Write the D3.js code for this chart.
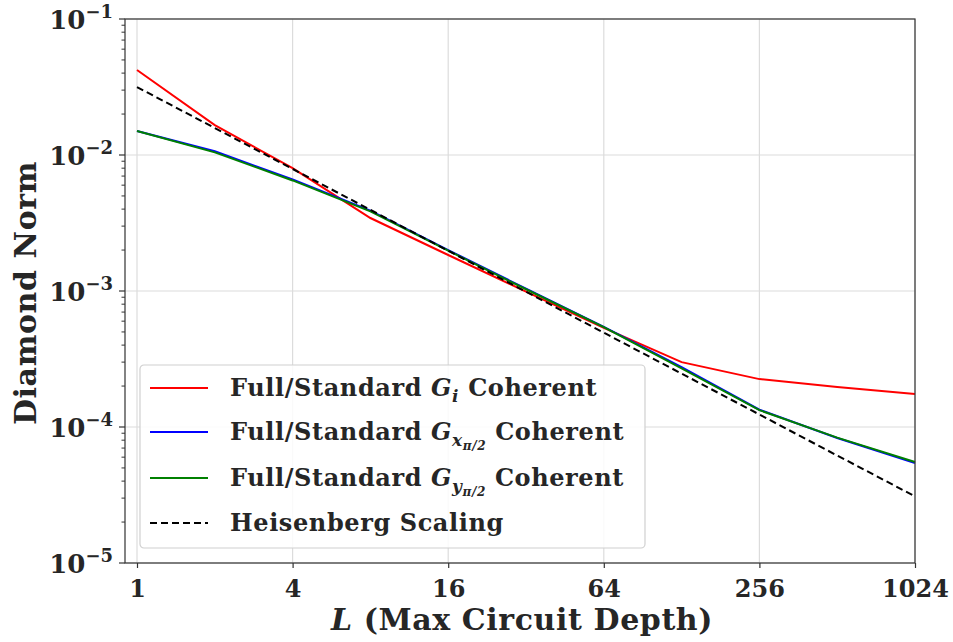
<!DOCTYPE html>
<html>
<head>
<meta charset="utf-8">
<script src="https://cdn.jsdelivr.net/npm/d3@7"></script>
<style>
  body { margin: 0; background: #fff; }
  text { font-family: "DejaVu Serif", serif; font-weight: bold; fill: #262626; }
</style>
</head>
<body>
<div id="chart-area"></div>
<script>

// Data
var depths = [1, 2, 4, 8, 16, 32, 64, 128, 256, 512, 1024];
var giCoherent = [0.0422, 0.0166, 0.0080, 0.00344, 0.00184, 0.00099, 0.000535, 0.000300, 0.000225, 0.000197, 0.000175];
var gxCoherent = [0.0150, 0.01065, 0.00660, 0.00390, 0.00200, 0.00104, 0.000545, 0.000276, 0.000134, 0.0000830, 0.0000543];
var gyCoherent = [0.0150, 0.01045, 0.00650, 0.00385, 0.00198, 0.00103, 0.000542, 0.000270, 0.000133, 0.0000835, 0.0000553];
var heisenberg = [0.0316, 0.0158, 0.0079, 0.00395, 0.001975, 0.000988, 0.000494, 0.000247, 0.0001235, 0.0000617, 0.0000309];

var xTicks = [1, 4, 16, 64, 256, 1024];
var yDecades = [1e-1, 1e-2, 1e-3, 1e-4, 1e-5];

var seriesNames = ["gi", "gx", "gy", "heis"];
var seriesColors = ["#ff0000", "#0000ff", "#008000", "#000000"];
var seriesValues = [giCoherent, gxCoherent, gyCoherent, heisenberg];

// SVG drawing area
var margin = {top: 19, right: 38, bottom: 79, left: 125};
var width = 953 - margin.left - margin.right,
    height = 642 - margin.top - margin.bottom;

var svg = d3.select("#chart-area").append("svg")
    .attr("width", 953)
    .attr("height", 642)
  .append("g")
    .attr("transform", "translate(" + margin.left + "," + margin.top + ")");

// Scales (x starts a little right of the frame, like the reference)
var x = d3.scaleLog().base(2)
    .domain([1, 1024])
    .range([12, width]);

var y = d3.scaleLog()
    .domain([1e-5, 1e-1])
    .range([height, 0]);

// Grid
svg.selectAll(".xgrid")
    .data(xTicks)
  .enter().append("line")
    .attr("class", "xgrid")
    .attr("x1", function(d) { return x(d); })
    .attr("x2", function(d) { return x(d); })
    .attr("y1", 0)
    .attr("y2", height)
    .attr("stroke", "#dcdcdc")
    .attr("stroke-width", 1.2);

svg.selectAll(".ygrid")
    .data(yDecades)
  .enter().append("line")
    .attr("class", "ygrid")
    .attr("x1", 0)
    .attr("x2", width)
    .attr("y1", function(d) { return y(d); })
    .attr("y2", function(d) { return y(d); })
    .attr("stroke", "#dcdcdc")
    .attr("stroke-width", 1.2);

// Lines
var line = d3.line()
    .x(function(d) { return x(d[0]); })
    .y(function(d) { return y(d[1]); });

seriesValues.forEach(function(vals, i) {
    svg.append("path")
        .datum(depths.map(function(d, j) { return [d, vals[j]]; }))
        .attr("fill", "none")
        .attr("stroke", seriesColors[i])
        .attr("stroke-width", 2)
        .attr("stroke-dasharray", seriesNames[i] === "heis" ? "7,4" : null)
        .attr("d", line);
});

// Frame
svg.append("rect")
    .attr("width", width)
    .attr("height", height)
    .attr("fill", "none")
    .attr("stroke", "#333")
    .attr("stroke-width", 1.2);

// X axis
var xAxis = d3.axisBottom(x)
    .tickValues(xTicks)
    .tickFormat(d3.format("d"))
    .tickSize(5)
    .tickPadding(6);

var gx = svg.append("g")
    .attr("transform", "translate(0," + height + ")")
    .call(xAxis);
gx.select(".domain").remove();
gx.selectAll(".tick line").attr("stroke", "#333").attr("stroke-width", 1.2);
gx.selectAll(".tick text")
    .style("font-size", "24px")
    .attr("fill", "#262626")
    .attr("dy", "0.95em");

// Y axis: minor ticks
var minorTicks = y.ticks().filter(function(d) {
    return yDecades.indexOf(d) < 0;
});
svg.selectAll(".yminor")
    .data(minorTicks)
  .enter().append("line")
    .attr("x1", -3.5)
    .attr("x2", 0)
    .attr("y1", function(d) { return y(d); })
    .attr("y2", function(d) { return y(d); })
    .attr("stroke", "#333")
    .attr("stroke-width", 1);

// Y axis: major ticks and labels
var yMajor = svg.selectAll(".ymajor")
    .data(yDecades)
  .enter().append("g")
    .attr("transform", function(d) { return "translate(0," + y(d) + ")"; });

yMajor.append("line")
    .attr("x1", -6)
    .attr("x2", 0)
    .attr("stroke", "#333")
    .attr("stroke-width", 1.2);

var yLab = yMajor.append("text")
    .attr("x", -12)
    .attr("y", 10)
    .attr("text-anchor", "end")
    .style("font-size", "26px");
yLab.append("tspan").text("10");
yLab.append("tspan")
    .attr("dy", -11)
    .style("font-size", "18px")
    .text(function(d) { return "\u2212" + Math.round(-Math.log10(d)); });

// Axis titles
svg.append("text")
    .attr("transform", "translate(" + (-89) + "," + (height / 2 + 2) + ") rotate(-90)")
    .attr("text-anchor", "middle")
    .style("font-size", "30px")
    .style("letter-spacing", "0.6px")
    .text("Diamond Norm");

var xTitle = svg.append("text")
    .attr("x", width / 2 + 2)
    .attr("y", height + 67)
    .attr("text-anchor", "middle")
    .style("font-size", "30px")
    .style("letter-spacing", "0.6px");
xTitle.append("tspan").style("font-style", "italic").text("L");
xTitle.append("tspan").text(" (Max Circuit Depth)");

// Legend
var legend = svg.append("g")
    .attr("transform", "translate(15,346)");

legend.append("rect")
    .attr("width", 505)
    .attr("height", 183)
    .attr("rx", 4)
    .attr("fill", "#fff")
    .attr("fill-opacity", 0.85)
    .attr("stroke", "#d0d0d0")
    .attr("stroke-width", 1.2);

var rowY = [23, 67, 113, 158];
var subs = ["i", "x", "y", null];

seriesNames.forEach(function(name, i) {
    var row = legend.append("g")
        .attr("transform", "translate(0," + rowY[i] + ")");
    row.append("line")
        .attr("x1", 10)
        .attr("x2", 68)
        .attr("stroke", seriesColors[i])
        .attr("stroke-width", 2)
        .attr("stroke-dasharray", name === "heis" ? "7,4" : null);

    var t = row.append("text")
        .attr("x", 90)
        .attr("y", 8)
        .style("font-size", "24px")
        .style("letter-spacing", "0.6px");

    if (name === "heis") {
        t.text("Heisenberg Scaling");
        return;
    }
    t.append("tspan").text("Full/Standard ");
    t.append("tspan").style("font-style", "italic").text("G");
    if (subs[i] === "i") {
        t.append("tspan").attr("dy", 6).style("font-style", "italic").style("font-size", "17px").text("i");
        t.append("tspan").attr("dy", -6).text(" Coherent");
    } else {
        t.append("tspan").attr("dy", 6).style("font-style", "italic").style("font-size", "17px").text(subs[i]);
        t.append("tspan").attr("dy", 4).style("font-style", "italic").style("font-size", "12px").text("\u03c0/2");
        t.append("tspan").attr("dy", -10).text(" Coherent");
    }
});

</script>
</body>
</html>
